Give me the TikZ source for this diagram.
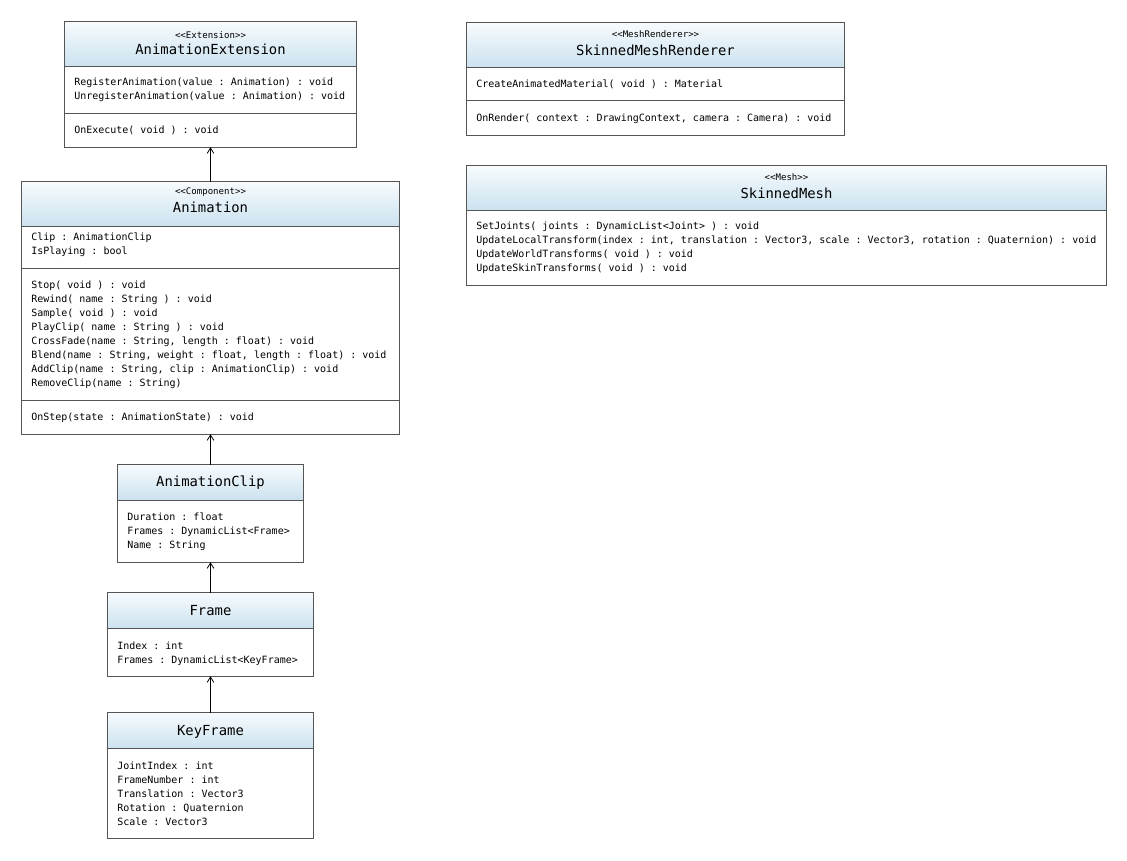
\documentclass[tikz,border=0pt]{standalone}
\usepackage{fontspec}
\setmonofont{DejaVu Sans Mono}
\usetikzlibrary{arrows.meta,fit,shadows}
\definecolor{hdrtop}{RGB}{247,251,253}
\definecolor{hdrblue}{RGB}{203,226,239}
\definecolor{boxgray}{RGB}{85,85,85}

\begin{document}
\begin{tikzpicture}[x=0.75pt, y=-0.75pt,
  classbox/.style={fill=white, inner sep=0pt,
    drop shadow={shadow xshift=0.7pt, shadow yshift=-0.9pt, opacity=0.4}},
  header/.style={top color=hdrtop, bottom color=hdrblue},
  outline/.style={boxgray, line width=0.8pt},
  sepline/.style={boxgray, line width=0.6pt},
  stereo/.style={font=\ttfamily\fontsize{6.8}{7.5}\selectfont, inner sep=0pt},
  title/.style={font=\ttfamily\fontsize{10.4}{12}\selectfont, inner sep=0pt},
  members/.style={font=\ttfamily\fontsize{7.5}{10.5}\selectfont, align=left,
    anchor=north west, inner sep=0pt},
  assoc/.style={-{Straight Barb[length=4pt,width=5pt]}, line width=0.6pt}]
\useasboundingbox (0,0) rectangle (1127,860);

\node[classbox, fit={(65,22) (356,147)}] (ext) {};
\shade[header] (65,22) rectangle (356,66);
\draw[sepline] (65,66) -- (356,66);
\draw[sepline] (65,113) -- (356,113);
\draw[outline] (ext.north west) rectangle (ext.south east);
\node[stereo] (extst) at (210.5,35) {<{}<Extension>{}>};
\node[title] (exttitle) at (210.5,49.5) {AnimationExtension};
\node[members] (extops) at (74,78) {RegisterAnimation(value : Animation) : void\\UnregisterAnimation(value : Animation) : void};
\node[members] (extexec) at (74,126) {OnExecute( void ) : void};

\node[classbox, fit={(22,182) (399,434)}] (anim) {};
\shade[header] (22,182) rectangle (399,226);
\draw[sepline] (22,226) -- (399,226);
\draw[sepline] (22,268) -- (399,268);
\draw[sepline] (22,400) -- (399,400);
\draw[outline] (anim.north west) rectangle (anim.south east);
\node[stereo] (animst) at (210.5,192) {<{}<Component>{}>};
\node[title] (animtitle) at (210.5,207.5) {Animation};
\node[members] (animattr) at (31,233) {Clip : AnimationClip\\IsPlaying : bool};
\node[members] (animops) at (31,281) {Stop( void ) : void\\Rewind( name : String ) : void\\Sample( void ) : void\\PlayClip( name : String ) : void\\CrossFade(name : String, length : float) : void\\Blend(name : String, weight : float, length : float) : void\\AddClip(name : String, clip : AnimationClip) : void\\RemoveClip(name : String)};
\node[members] (animstep) at (31,413) {OnStep(state : AnimationState) : void};

\node[classbox, fit={(118,465) (303,562)}] (clip) {};
\shade[header] (118,465) rectangle (303,500);
\draw[sepline] (118,500) -- (303,500);
\draw[outline] (clip.north west) rectangle (clip.south east);
\node[title] (cliptitle) at (210.5,482.5) {AnimationClip};
\node[members] (clipattr) at (127,513) {Duration : float\\Frames : DynamicList<Frame>\\Name : String};

\node[classbox, fit={(108,593) (313,676)}] (frame) {};
\shade[header] (108,593) rectangle (313,628);
\draw[sepline] (108,628) -- (313,628);
\draw[outline] (frame.north west) rectangle (frame.south east);
\node[title] (frametitle) at (210.5,610.5) {Frame};
\node[members] (frameattr) at (117,642) {Index : int\\Frames : DynamicList<KeyFrame>};

\node[classbox, fit={(108,713) (313,838)}] (keyframe) {};
\shade[header] (108,713) rectangle (313,748);
\draw[sepline] (108,748) -- (313,748);
\draw[outline] (keyframe.north west) rectangle (keyframe.south east);
\node[title] (keyframetitle) at (210.5,731.5) {KeyFrame};
\node[members] (keyframeattr) at (117,762) {JointIndex : int\\FrameNumber : int\\Translation : Vector3\\Rotation : Quaternion\\Scale : Vector3};

\node[classbox, fit={(467,23) (844,135)}] (renderer) {};
\shade[header] (467,23) rectangle (844,67);
\draw[sepline] (467,67) -- (844,67);
\draw[sepline] (467,100) -- (844,100);
\draw[outline] (renderer.north west) rectangle (renderer.south east);
\node[stereo] (rendererst) at (655.5,34) {<{}<MeshRenderer>{}>};
\node[title] (renderertitle) at (655.5,50.5) {SkinnedMeshRenderer};
\node[members] (rendererops) at (476,80) {CreateAnimatedMaterial( void ) : Material};
\node[members] (rendererdraw) at (476,114) {OnRender( context : DrawingContext, camera : Camera) : void};

\node[classbox, fit={(467,166) (1106,285)}] (mesh) {};
\shade[header] (467,166) rectangle (1106,210);
\draw[sepline] (467,210) -- (1106,210);
\draw[outline] (mesh.north west) rectangle (mesh.south east);
\node[stereo] (meshst) at (786.5,177) {<{}<Mesh>{}>};
\node[title] (meshtitle) at (786.5,193.5) {SkinnedMesh};
\node[members] (meshops) at (476,222) {SetJoints( joints : DynamicList<Joint> ) : void\\UpdateLocalTransform(index : int, translation : Vector3, scale : Vector3, rotation : Quaternion) : void\\UpdateWorldTransforms( void ) : void\\UpdateSkinTransforms( void ) : void};

\draw[assoc] (anim) -- (ext);
\draw[assoc] (clip) -- (anim);
\draw[assoc] (frame) -- (clip);
\draw[assoc] (keyframe) -- (frame);
\end{tikzpicture}
\end{document}
